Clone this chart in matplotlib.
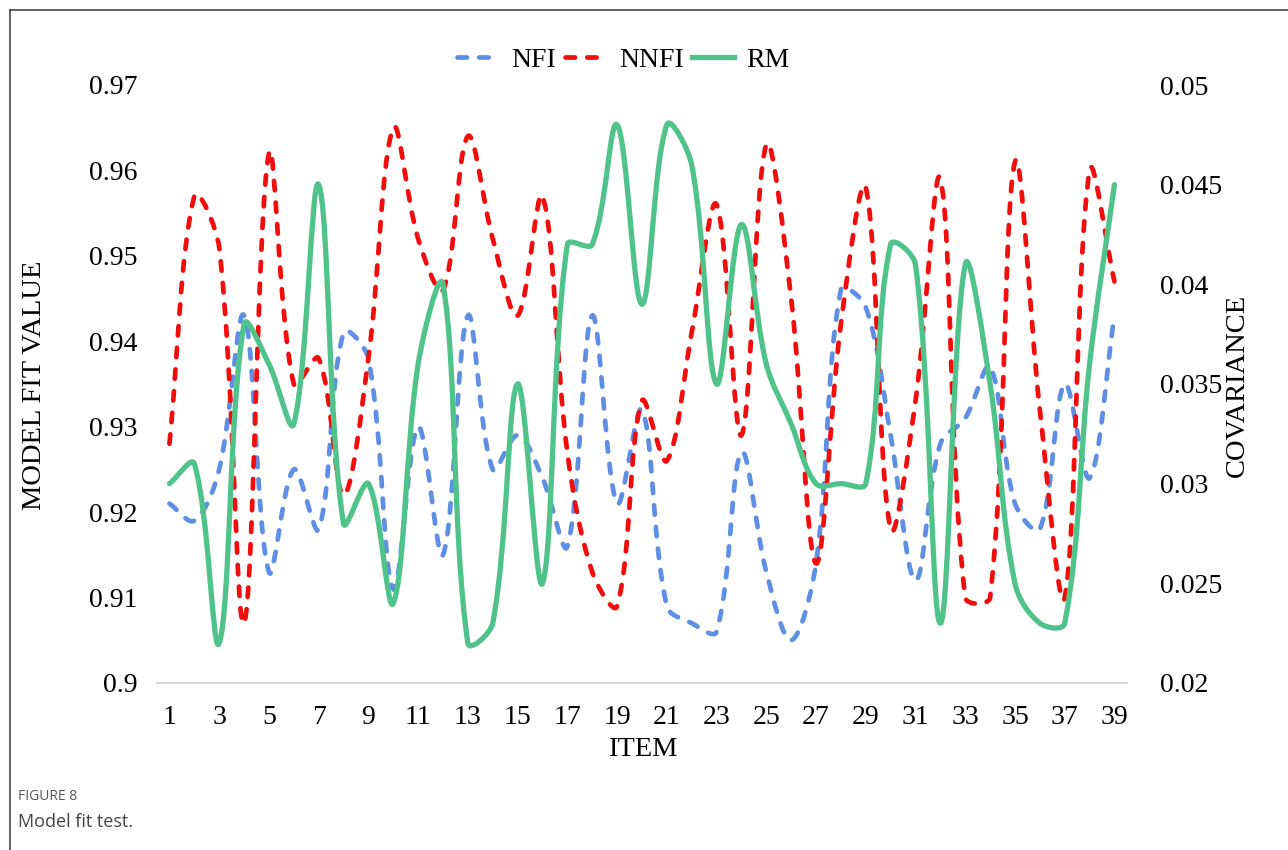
import numpy as np
import matplotlib.pyplot as plt
from matplotlib.path import Path
from matplotlib.patches import PathPatch
from matplotlib.lines import Line2D

# values
items = list(range(1, 40))
nfi = [0.921, 0.919, 0.925, 0.943, 0.913, 0.925, 0.918, 0.941, 0.938, 0.911,
       0.930, 0.915, 0.943, 0.925, 0.929, 0.924, 0.916, 0.943, 0.921, 0.932,
       0.909, 0.907, 0.906, 0.927, 0.913, 0.905, 0.914, 0.946, 0.944, 0.929,
       0.912, 0.928, 0.931, 0.937, 0.921, 0.918, 0.935, 0.924, 0.943]
nnfi = [0.928, 0.957, 0.951, 0.907, 0.962, 0.935, 0.938, 0.922, 0.938, 0.965,
        0.952, 0.946, 0.964, 0.952, 0.943, 0.957, 0.927, 0.913, 0.909, 0.933,
        0.926, 0.941, 0.956, 0.929, 0.963, 0.945, 0.914, 0.942, 0.958, 0.918,
        0.933, 0.959, 0.910, 0.910, 0.961, 0.932, 0.910, 0.960, 0.947]
rm = [0.030, 0.031, 0.022, 0.038, 0.036, 0.033, 0.045, 0.028, 0.030, 0.024,
      0.036, 0.040, 0.022, 0.023, 0.035, 0.025, 0.042, 0.042, 0.048, 0.039,
      0.048, 0.046, 0.035, 0.043, 0.036, 0.033, 0.030, 0.030, 0.030, 0.042,
      0.041, 0.023, 0.041, 0.035, 0.025, 0.023, 0.023, 0.036, 0.045]
left_ticks = [0.9, 0.91, 0.92, 0.93, 0.94, 0.95, 0.96, 0.97]
left_labels = ['0.9', '0.91', '0.92', '0.93', '0.94', '0.95', '0.96', '0.97']
right_ticks = [0.02, 0.025, 0.03, 0.035, 0.04, 0.045, 0.05]
right_labels = ['0.02', '0.025', '0.03', '0.035', '0.04', '0.045', '0.05']

BLUE = '#5f8fe3'
RED = '#f20d0d'
GREEN = '#4fc38a'
SERIF = 'Liberation Serif'


def smooth_path(xs, ys, sx, sy, t=0.35):
    # smoothed line as cubic bezier segments; handle length depends on
    # neighbouring segment lengths (measured on screen) so short flat parts stay flat
    x = np.asarray(xs, float)
    y = np.asarray(ys, float)
    n = len(x)
    d = np.hypot(np.diff(x) * sx, np.diff(y) * sy)
    out_c = []
    in_c = []
    for i in range(n):
        ip = max(i - 1, 0)
        inx = min(i + 1, n - 1)
        tx, ty = x[inx] - x[ip], y[inx] - y[ip]
        da = d[i - 1] if i > 0 else 0.0
        db = d[i] if i < n - 1 else 0.0
        tot = da + db if da + db > 0 else 1.0
        fa = t * da / tot
        fb = t * db / tot
        in_c.append((x[i] - fa * tx, y[i] - fa * ty))
        out_c.append((x[i] + fb * tx, y[i] + fb * ty))
    verts = [(x[0], y[0])]
    codes = [Path.MOVETO]
    for i in range(n - 1):
        verts += [out_c[i], in_c[i + 1], (x[i + 1], y[i + 1])]
        codes += [Path.CURVE4] * 3
    return Path(verts, codes)


fig = plt.figure(figsize=(12.88, 8.5), dpi=100)
ax = fig.add_axes([0.1219, 0.1965, 0.753, 0.7035])
ax2 = ax.twinx()

px_x = 970 / 39
dash = (0, (2.0, 2.6))
ax.add_patch(PathPatch(smooth_path(items, nfi, px_x, 598 / 0.07), fill=False,
                       edgecolor=BLUE, lw=3.4, linestyle=dash, capstyle='round'))
ax.add_patch(PathPatch(smooth_path(items, nnfi, px_x, 598 / 0.07), fill=False,
                       edgecolor=RED, lw=3.4, linestyle=dash, capstyle='round'))
ax2.add_patch(PathPatch(smooth_path(items, rm, px_x, 598 / 0.03), fill=False,
                        edgecolor=GREEN, lw=3.8, capstyle='round', joinstyle='round'))

ax.set_xlim(0.5, 39.5)
ax.set_ylim(0.9, 0.97)
ax2.set_ylim(0.02, 0.05)
ax.set_xticks(items[::2])
ax.set_xticklabels([str(i) for i in items[::2]], fontsize=20, family=SERIF)
ax.set_yticks(left_ticks)
ax.set_yticklabels(left_labels, fontsize=20, family=SERIF)
ax2.set_yticks(right_ticks)
ax2.set_yticklabels(right_labels, fontsize=20, family=SERIF)

for a in (ax, ax2):
    for s in a.spines.values():
        s.set_visible(False)
ax.spines['bottom'].set_visible(True)
ax.spines['bottom'].set_color('#d9d9d9')
ax.spines['bottom'].set_linewidth(1.5)
ax.tick_params(axis='x', length=0, pad=16, colors='black')
ax.tick_params(axis='y', length=0, pad=14, colors='black')
ax2.tick_params(axis='y', length=0, pad=24, colors='black')

fig.text(35 / 1288, 1 - 385 / 850, 'MODEL FIT VALUE', rotation=90, ha='center', va='center',
         fontsize=20.5, family=SERIF)
fig.text(1237 / 1288, 1 - 385 / 850, 'COVARIANCE', rotation=90, ha='center', va='center',
         fontsize=20.5, family=SERIF)
fig.text(643 / 1288, 1 - 750 / 850, 'ITEM', ha='center', va='center', fontsize=20.5, family=SERIF)

handles = [Line2D([], [], color=BLUE, lw=3.4, linestyle=dash, dash_capstyle='round'),
           Line2D([], [], color=RED, lw=3.4, linestyle=dash, dash_capstyle='round'),
           Line2D([], [], color=GREEN, lw=3.8)]
fig.legend(handles, ['NFI', 'NNFI', 'RM'], loc='center', bbox_to_anchor=(0.484, 0.929),
           ncol=3, frameon=False, handlelength=1.5, handletextpad=0.45, columnspacing=0.3,
           prop={'family': SERIF, 'size': 20})

fig.text(18 / 1288, 1 - 797 / 850, 'FIGURE 8', fontsize=10, color='#555555',
         family='Open Sans', va='center')
fig.text(18 / 1288, 1 - 822 / 850, 'Model fit test.', fontsize=13, color='#444444',
         family='Open Sans', va='center')

# page frame
fig.add_artist(Line2D([10 / 1288, 1], [1 - 10 / 850, 1 - 10 / 850], color='#444444', lw=1.2))
fig.add_artist(Line2D([10 / 1288, 10 / 1288], [0, 1 - 10 / 850], color='#444444', lw=1.2))

fig.savefig('out.png', dpi=100)
